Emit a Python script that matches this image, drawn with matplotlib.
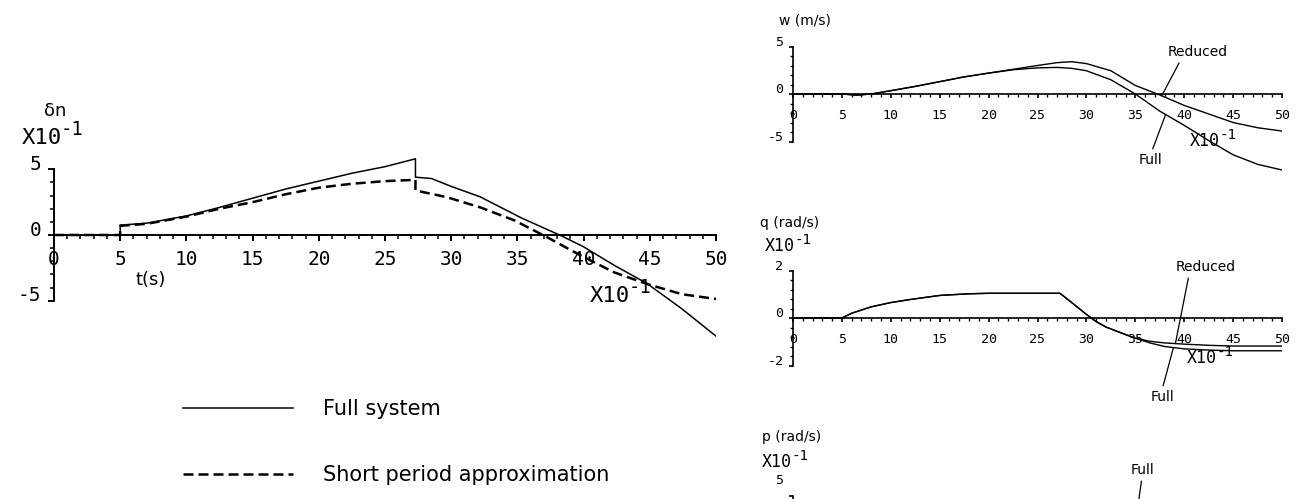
import numpy as np
import matplotlib
matplotlib.use("Agg")
import matplotlib.pyplot as plt
from matplotlib.transforms import ScaledTranslation

# normal acceleration response, full system vs short period approximation (x10^-1)
t_dn = [0, 5, 5, 7, 10, 12.5, 15, 17.5, 20, 22.5, 25, 27.3, 27.3, 28.5, 30, 32.2, 35.3,
        38.4, 40, 42.3, 44.8, 47.4, 50]
dn_full = [0, 0, 0.75, 0.9, 1.45, 2.1, 2.8, 3.5, 4.1, 4.7, 5.2, 5.8, 4.4, 4.3, 3.7, 2.9, 1.3,
           -0.1, -0.9, -2.3, -3.7, -5.6, -7.7]
t_dn_s = [0, 5, 5, 7, 10, 12.5, 15, 17.5, 20, 22.5, 25, 27.3, 27.3, 27.5, 29.7, 32.2, 34.8,
          37.3, 39.8, 42.3, 44.8, 47.4, 50]
dn_short = [0, 0, 0.7, 0.85, 1.4, 2.0, 2.5, 3.1, 3.6, 3.9, 4.1, 4.2, 3.4, 3.35, 2.87, 2.1, 1.1,
            -0.2, -1.57, -2.84, -3.73, -4.5, -4.87]

# vertical velocity w (m/s)
t_w = [0, 5, 6.5, 8, 10, 12.5, 15, 17.5, 20, 22.5, 25, 27, 28.5, 30, 32.5, 35, 37.5, 40,
       42.5, 45, 47.5, 50]
w_full = [0, 0, -0.12, 0, 0.35, 0.8, 1.3, 1.8, 2.2, 2.55, 2.75, 2.8, 2.7, 2.45, 1.5, 0.0,
          -1.8, -3.3, -4.9, -6.4, -7.4, -8.0]
w_red = [0, 0, -0.12, 0, 0.35, 0.8, 1.3, 1.8, 2.2, 2.6, 3.0, 3.3, 3.4, 3.2, 2.45, 0.9,
         -0.1, -1.2, -2.1, -3.0, -3.55, -3.9]

# pitch rate q (rad/s, x10^-1)
t_q = [0, 5, 6, 8, 10, 12, 15, 18, 20, 24, 27.3, 28.5, 30, 31, 32, 33.5, 35, 36.5, 38, 40,
       42.5, 45, 47.5, 50]
q_full = [0, 0, 0.2, 0.47, 0.65, 0.78, 0.95, 1.02, 1.04, 1.04, 1.04, 0.65, 0.15, -0.15,
          -0.38, -0.62, -0.85, -1.05, -1.2, -1.3, -1.35, -1.38, -1.38, -1.38]
q_red = [0, 0, 0.2, 0.47, 0.65, 0.78, 0.95, 1.02, 1.04, 1.04, 1.04, 0.65, 0.15, -0.15,
         -0.38, -0.62, -0.85, -0.98, -1.05, -1.1, -1.15, -1.18, -1.18, -1.18]

W, H = 1315, 499
plt.rcParams["font.family"] = "DejaVu Sans"
plt.rcParams["axes.unicode_minus"] = False
MONO = "DejaVu Sans Mono"

fig = plt.figure(figsize=(W / 100, H / 100), dpi=100)


def px_axes(x0, x1, yzero, ppu, ylim):
    top = yzero - ppu * ylim[1]
    bot = yzero - ppu * ylim[0]
    ax = fig.add_axes([x0 / W, 1 - bot / H, (x1 - x0) / W, (bot - top) / H])
    ax.set_xlim(0, 50)
    ax.set_ylim(*ylim)
    return ax


def plotter_frame(ax, ylim_lab, yminor, size, ticklen, xpad, ypad, rise, lw):
    ax.patch.set_visible(False)
    for s in ("top", "right"):
        ax.spines[s].set_visible(False)
    for s in ("left", "bottom"):
        ax.spines[s].set_position(("data", 0))
        ax.spines[s].set_linewidth(lw)
    ax.spines["left"].set_bounds(-ylim_lab, ylim_lab)
    ax.spines["bottom"].set_bounds(0, 50)
    ax.set_xticks(np.arange(0, 51, 5))
    ax.set_xticks(np.arange(0, 51, 1), minor=True)
    ax.set_yticks([-ylim_lab, 0, ylim_lab])
    ax.set_yticks(np.arange(-ylim_lab, ylim_lab + 1e-9, yminor), minor=True)
    ax.tick_params(which="major", direction="out", length=ticklen, width=lw,
                   labelsize=size, labelfontfamily=MONO)
    ax.tick_params(which="minor", direction="out", length=ticklen * 0.7, width=lw * 0.8)
    ax.tick_params(axis="x", pad=xpad)
    ax.tick_params(axis="y", pad=ypad)
    for lab in ax.get_yticklabels():
        lab.set_transform(lab.get_transform()
                          + ScaledTranslation(0, rise / 72, fig.dpi_scale_trans))


def ftext(x, y, s, **kw):
    fig.text(x / W, 1 - y / H, s, **kw)


def x10(x, y, size):
    # plotter style "X10" with a raised "-1"
    adv = 0.602 * size * 100 / 72
    ftext(x, y, "X10", fontsize=size, family=MONO, ha="left", va="baseline")
    ftext(x + 3 * adv - 1, y - 0.55 * size, "-1", fontsize=size * 0.85, family=MONO,
          ha="left", va="baseline")


def pointer(ax, label, t, ts, vals, px, py, relpos):
    ax.annotate(label, xy=(t, np.interp(t, ts, vals)), xytext=(px, H - py),
                textcoords="figure pixels", ha="center", va="center", fontsize=10,
                arrowprops=dict(arrowstyle="-", lw=0.9, color="k", relpos=relpos,
                                shrinkA=1, shrinkB=0))


# left: delta n
ax = px_axes(54, 716, 235, 13.14, (-9, 6.5))
plotter_frame(ax, 5, 1, 14, 4, 7, 5, 5, 1.4)
h1, = ax.plot(t_dn, dn_full, color="k", lw=1.1, label="Full system")
h2, = ax.plot(t_dn_s, dn_short, color="k", lw=1.8, dashes=(4, 2),
              label="Short period approximation")
ftext(55, 111, "δn", fontsize=13, ha="center", va="center")
x10(22, 144, 16)
x10(590, 302, 16)
ftext(151, 280, "t(s)", fontsize=13, ha="center", va="center")
fig.legend(handles=[h1, h2], loc="upper left", bbox_to_anchor=(183 / W, 1 - 399 / H),
           frameon=False, fontsize=15, handlelength=5.3, handletextpad=1.4,
           labelspacing=2.2, borderpad=0, borderaxespad=0)

# right top: w
axw = px_axes(793, 1282, 94, 9.5, (-9, 6))
plotter_frame(axw, 5, 1, 9.5, 3, 8, 4, 4, 1.2)
axw.plot(t_w, w_full, color="k", lw=1.0)
axw.plot(t_w, w_red, color="k", lw=1.0)
ftext(805, 20, "w (m/s)", fontsize=10, ha="center", va="center")
x10(1190, 146, 12)
pointer(axw, "Reduced", 37.7, t_w, w_red, 1198, 52, (0.22, 0))
pointer(axw, "Full", 38.1, t_w, w_full, 1150, 160, (0.55, 1))

# right middle: q
axq = px_axes(793, 1282, 318, 23.75, (-3, 2.5))
plotter_frame(axq, 2, 0.4, 9.5, 3, 8, 4, 4, 1.2)
axq.plot(t_q, q_full, color="k", lw=1.0)
axq.plot(t_q, q_red, color="k", lw=1.0)
ftext(790, 223, "q (rad/s)", fontsize=10, ha="center", va="center")
x10(765, 251, 12)
x10(1187, 363, 12)
pointer(axq, "Reduced", 39.1, t_q, q_red, 1206, 267, (0.22, 0))
pointer(axq, "Full", 38.9, t_q, q_full, 1162, 397, (0.5, 1))

# right bottom: p (runs off the page, only its top shows)
axp = px_axes(793, 1282, 543.5, 9.5, (-6, 6))
plotter_frame(axp, 5, 1, 9.5, 3, 8, 4, 12, 1.2)
axp.set_yticks([-5, 0, 5], labels=["", "", "5"])
axp.tick_params(axis="x", which="both", labelbottom=False)
ftext(792, 437, "p (rad/s)", fontsize=10, ha="center", va="center")
x10(762, 467, 12)
axp.annotate("Full", xy=(35.0, 2.0), xytext=(1142, H - 470), textcoords="figure pixels",
             ha="center", va="center", fontsize=10,
             arrowprops=dict(arrowstyle="-", lw=0.9, color="k", relpos=(0.5, 0),
                             shrinkA=1, shrinkB=0))

fig.savefig("out.png", dpi=100)
